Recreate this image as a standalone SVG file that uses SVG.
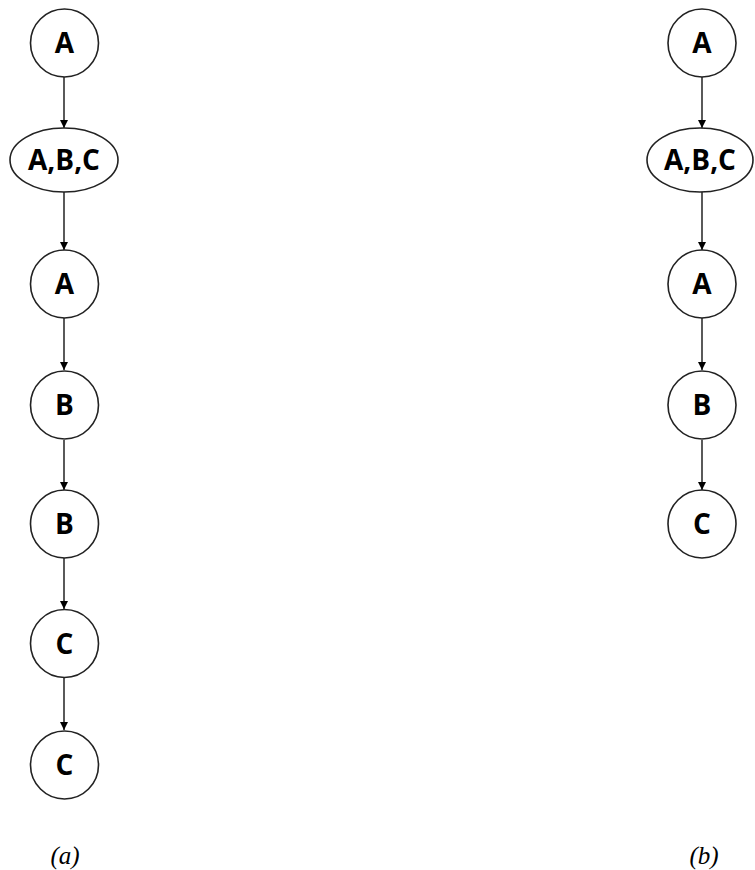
<svg xmlns="http://www.w3.org/2000/svg" width="755" height="870" viewBox="0 0 755 870">
<defs>
<style>
.n{fill:#fff;stroke:#222;stroke-width:1.6}
.t{font-family:"Open Sans","Liberation Sans",Arial,sans-serif;font-weight:bold;font-size:28px;text-anchor:middle;fill:#000}
.c{stroke:#000;stroke-width:1.3;fill:none;marker-end:url(#ah)}
.cap{font-family:"Liberation Serif","Times New Roman",serif;font-style:italic;font-size:25px;text-anchor:middle;fill:#000}
</style>
<marker id="ah" markerWidth="8" markerHeight="8" refX="8" refY="4" orient="auto" markerUnits="userSpaceOnUse">
<path d="M0,0 L8,4 L0,8 Z" fill="#000"/>
</marker>
</defs>
<rect width="755" height="870" fill="#fff"/>
<g id="connectors">
<line class="c" x1="64" y1="77" x2="64" y2="128"/>
<line class="c" x1="64" y1="192" x2="64" y2="250"/>
<line class="c" x1="64" y1="318" x2="64" y2="370"/>
<line class="c" x1="64" y1="440" x2="64" y2="490"/>
<line class="c" x1="64" y1="558" x2="64" y2="609"/>
<line class="c" x1="64" y1="678" x2="64" y2="730"/>
<line class="c" x1="702" y1="77" x2="702" y2="128"/>
<line class="c" x1="702" y1="192" x2="702" y2="250"/>
<line class="c" x1="702" y1="318" x2="702" y2="370"/>
<line class="c" x1="702" y1="440" x2="702" y2="490"/>
</g>
<g id="a1"><circle class="n" cx="64.5" cy="43" r="34"/><text class="t" x="64.5" y="53">A</text></g>
<g id="a2"><ellipse class="n" cx="64" cy="160" rx="54" ry="32"/><text class="t" x="64" y="170">A,B,C</text></g>
<g id="a3"><circle class="n" cx="64.5" cy="284" r="34"/><text class="t" x="64.5" y="294">A</text></g>
<g id="a4"><circle class="n" cx="64.5" cy="405" r="34"/><text class="t" x="64.5" y="415">B</text></g>
<g id="a5"><circle class="n" cx="64.5" cy="524" r="34"/><text class="t" x="64.5" y="534">B</text></g>
<g id="a6"><circle class="n" cx="64.5" cy="643.5" r="34"/><text class="t" x="64.5" y="653.5">C</text></g>
<g id="a7"><circle class="n" cx="64.5" cy="765" r="34"/><text class="t" x="64.5" y="775">C</text></g>
<g id="b1"><circle class="n" cx="702" cy="43" r="34"/><text class="t" x="702" y="53">A</text></g>
<g id="b2"><ellipse class="n" cx="700" cy="160" rx="53" ry="32"/><text class="t" x="700" y="170">A,B,C</text></g>
<g id="b3"><circle class="n" cx="702" cy="284" r="34"/><text class="t" x="702" y="294">A</text></g>
<g id="b4"><circle class="n" cx="702" cy="405" r="34"/><text class="t" x="702" y="415">B</text></g>
<g id="b5"><circle class="n" cx="702" cy="524" r="34"/><text class="t" x="702" y="534">C</text></g>
<text class="cap" x="65" y="864">(a)</text>
<text class="cap" x="704" y="864">(b)</text>
</svg>
